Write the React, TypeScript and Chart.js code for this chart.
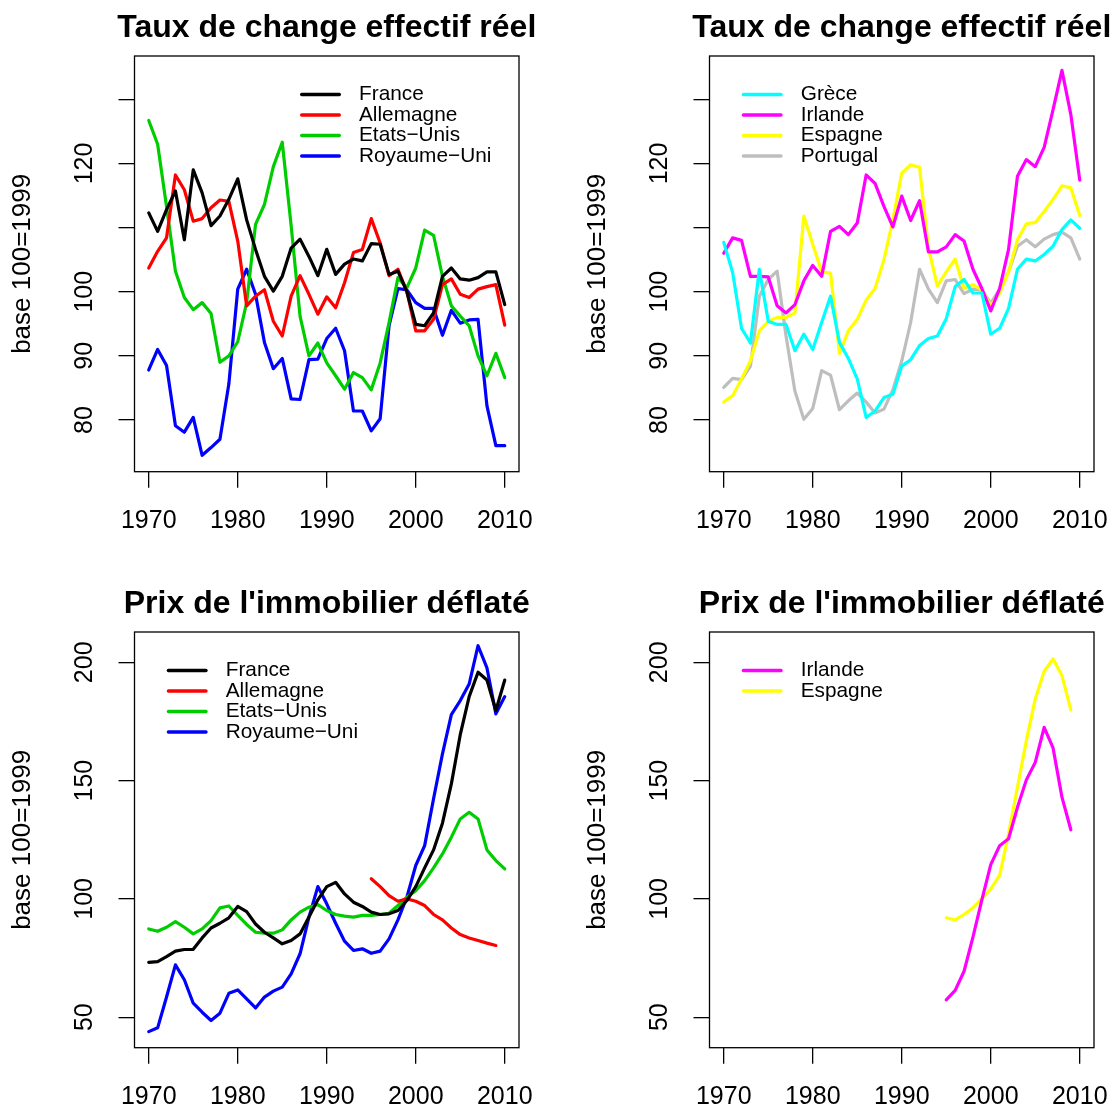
import React, { useEffect, useRef } from "react";
import { Chart, registerables } from "chart.js";

Chart.register(...registerables);

const FONT = '"Liberation Sans", Arial, Helvetica, sans-serif';
Chart.defaults.font.family = FONT;
Chart.defaults.color = "#000";

// ---------- categories & ticks ----------
const years = [
  1970, 1971, 1972, 1973, 1974, 1975, 1976, 1977, 1978, 1979,
  1980, 1981, 1982, 1983, 1984, 1985, 1986, 1987, 1988, 1989,
  1990, 1991, 1992, 1993, 1994, 1995, 1996, 1997, 1998, 1999,
  2000, 2001, 2002, 2003, 2004, 2005, 2006, 2007, 2008, 2009, 2010,
];
const yearTicks = [1970, 1980, 1990, 2000, 2010];
const xMin = 1968.4;
const xMax = 2011.6;

const tcerTicks = [80, 90, 100, 110, 120, 130];
const tcerTickLabels = [80, 90, 100, 120];
const tcerMin = 71.94;
const tcerMax = 136.75;

const immoTicks = [50, 100, 150, 200];
const immoTickLabels = [50, 100, 150, 200];
const immoMin = 37.1;
const immoMax = 212.8;

// ---------- Taux de change effectif réel ----------
const tcerFrance = [
  112.3, 109.4, 112.8, 115.7, 108.1, 119.0, 115.4, 110.3, 111.8, 114.4,
  117.6, 111.2, 106.6, 102.4, 100.1, 102.4, 106.8, 108.2, 105.5, 102.5,
  106.6, 102.7, 104.3, 105.1, 104.8, 107.5, 107.4, 102.7, 103.2, 100.0,
  94.9, 94.7, 96.7, 102.4, 103.7, 102.0, 101.8, 102.2, 103.1, 103.1, 98.0,
];
const tcerAllemagne = [
  103.7, 106.3, 108.4, 118.2, 115.9, 111.0, 111.4, 113.1, 114.3, 114.1,
  107.9, 97.8, 99.3, 100.3, 95.4, 93.1, 99.3, 102.5, 99.6, 96.5,
  99.2, 97.5, 101.4, 106.1, 106.6, 111.4, 107.6, 102.5, 103.5, 100.0,
  93.9, 93.9, 95.7, 101.1, 102.0, 99.6, 99.1, 100.4, 100.8, 101.1, 94.8,
];
const tcerEtatsUnis = [
  126.7, 123.0, 113.3, 103.2, 99.1, 97.2, 98.3, 96.6, 89.0, 90.0,
  92.2, 98.3, 110.5, 113.6, 119.5, 123.3, 110.3, 96.2, 90.0, 92.0,
  88.9, 86.9, 84.8, 87.4, 86.6, 84.7, 88.9, 95.2, 102.2, 100.6,
  103.7, 109.6, 108.8, 102.4, 97.8, 96.2, 94.7, 90.0, 86.9, 90.4, 86.6,
];
const tcerRoyaumeUni = [
  87.8, 91.0, 88.5, 79.1, 78.1, 80.4, 74.5, 75.7, 77.0, 85.6,
  100.4, 103.5, 99.6, 92.1, 88.0, 89.6, 83.3, 83.2, 89.4, 89.5,
  92.7, 94.3, 90.8, 81.4, 81.4, 78.3, 80.2, 94.7, 100.5, 100.3,
  98.3, 97.4, 97.4, 93.2, 97.1, 95.1, 95.6, 95.7, 82.2, 76.0, 76.0,
];
const tcerGrece = [
  107.7, 103.0, 94.3, 92.0, 103.5, 95.4, 94.9, 94.9, 90.8, 93.4,
  91.0, 95.2, 99.3, 92.1, 89.6, 86.4, 80.4, 81.4, 83.5, 84.0,
  88.4, 89.4, 91.6, 92.7, 93.1, 95.8, 100.8, 101.9, 99.8, 99.8,
  93.4, 94.3, 97.4, 103.5, 105.1, 104.8, 105.8, 107.1, 109.7, 111.2, 109.9,
];
const tcerIrlande = [
  106.0, 108.4, 108.0, 102.4, 102.4, 102.3, 97.8, 96.7, 98.0, 101.7,
  104.1, 102.4, 109.4, 110.2, 108.9, 110.7, 118.2, 116.9, 113.3, 110.1,
  114.9, 111.1, 114.2, 106.2, 106.2, 107.0, 108.9, 107.9, 103.5, 100.5,
  97.0, 100.5, 106.6, 118.0, 120.6, 119.5, 122.5, 128.4, 134.5, 127.6, 117.4,
];
const tcerEspagne = [
  82.8, 83.8, 86.4, 89.2, 93.9, 95.4, 96.0, 96.0, 96.7, 111.8,
  107.4, 103.1, 102.9, 90.4, 93.9, 95.7, 98.7, 100.5, 105.0, 111.2,
  118.5, 119.8, 119.4, 106.8, 100.9, 103.1, 105.1, 100.5, 101.1, 100.3,
  97.8, 99.8, 103.1, 108.1, 110.6, 110.8, 112.5, 114.4, 116.5, 116.2, 111.9,
];
const tcerPortugal = [
  85.1, 86.5, 86.3, 88.4, 99.3, 101.9, 103.2, 93.1, 84.5, 80.1,
  81.8, 87.7, 87.0, 81.6, 83.0, 84.2, 82.8, 81.1, 81.7, 84.7,
  89.2, 95.2, 103.5, 100.4, 98.3, 101.7, 101.9, 99.7, 100.4, 100.3,
  98.2, 100.4, 103.1, 107.1, 108.1, 107.0, 108.2, 108.9, 109.3, 108.4, 105.1,
];

// ---------- Prix de l'immobilier déflaté ----------
const immoFrance = [
  73.2, 73.5, 75.6, 77.9, 78.6, 78.7, 83.5, 87.7, 89.7, 92.0,
  96.8, 94.6, 89.4, 85.9, 83.5, 81.0, 82.4, 85.2, 92.3, 99.6,
  105.2, 107.0, 102.1, 98.6, 96.8, 94.4, 93.4, 93.7, 95.1, 99.3,
  105.2, 113.1, 120.7, 132.0, 148.6, 169.4, 185.5, 195.8, 192.5, 179.6, 192.5,
];
const immoAllemagne = [
  null, null, null, null, null, null, null, null, null, null,
  null, null, null, null, null, null, null, null, null, null,
  null, null, null, null, null, 108.5, 105.2, 101.4, 99.0, 100.0,
  99.0, 97.2, 93.4, 91.1, 87.7, 84.9, 83.5, 82.4, 81.3, 80.3, null,
];
const immoEtatsUnis = [
  87.3, 86.3, 88.0, 90.4, 88.0, 85.2, 87.3, 90.8, 96.2, 97.0,
  93.0, 89.2, 85.9, 85.5, 85.5, 86.9, 91.1, 94.4, 96.5, 97.6,
  95.1, 93.4, 92.7, 92.3, 93.0, 93.0, 93.4, 93.9, 97.2, 100.7,
  103.5, 107.7, 113.1, 119.0, 126.1, 133.8, 136.6, 133.8, 120.7, 116.2, 112.7,
];
const immoRoyaumeUni = [
  43.9, 45.5, 58.5, 72.1, 65.8, 55.9, 52.1, 48.6, 51.7, 60.1,
  61.5, 57.7, 53.9, 58.5, 61.0, 62.7, 68.3, 76.8, 92.3, 105.2,
  97.9, 89.7, 82.1, 78.2, 78.9, 77.0, 77.9, 83.1, 91.1, 100.7,
  114.1, 122.5, 142.3, 161.3, 177.9, 183.8, 190.8, 207.0, 197.6, 178.2, 185.5,
];
const immoIrlande = [
  null, null, null, null, null, null, null, null, null, null,
  null, null, null, null, null, null, null, null, null, null,
  null, null, null, null, null, 57.3, 61.3, 69.4, 83.8, 99.6,
  114.5, 122.5, 125.4, 138.7, 150.3, 157.7, 172.5, 163.8, 143.0, 129.2, null,
];
const immoEspagne = [
  null, null, null, null, null, null, null, null, null, null,
  null, null, null, null, null, null, null, null, null, null,
  null, null, null, null, null, 92.0, 91.1, 93.4, 96.2, 100.0,
  104.2, 109.9, 127.5, 147.2, 166.9, 184.5, 196.2, 201.4, 194.4, 179.9, null,
];

const yTitle = "base 100=1999";
const titleTcer = "Taux de change effectif réel";
const titleImmo = "Prix de l'immobilier déflaté";

type Series = { label: string; color: string; values: (number | null)[] };

// ---------- layout constants (pixels inside one 575x575 panel) ----------
const PANEL = 575;
const AREA_LEFT = 134.5;
const AREA_TOP = 56;
const AREA_RIGHT = 519;
const AREA_BOTTOM = 471.7;
const X_AXIS_H = 60;
const TICK_LEN = 16;
const TICK_FONT = 25;

const decorPlugin = {
  id: "decor",
  afterDraw(chart: any, _args: any, opts: any) {
    const { ctx, chartArea: a } = chart;
    ctx.save();
    // box
    ctx.strokeStyle = "#000";
    ctx.lineWidth = 1.3;
    ctx.strokeRect(a.left, a.top, a.right - a.left, a.bottom - a.top);
    // title
    ctx.fillStyle = "#000";
    ctx.font = `bold 32px ${FONT}`;
    ctx.textAlign = "center";
    ctx.textBaseline = "alphabetic";
    ctx.fillText(opts.title, (a.left + a.right) / 2, 36.5);
    // legend
    ctx.font = `20.8px ${FONT}`;
    ctx.textAlign = "left";
    ctx.textBaseline = "middle";
    chart.data.datasets.forEach((ds: any, i: number) => {
      const y = a.top + 38.5 + i * 20.5;
      const x0 = a.left + opts.legendX;
      ctx.strokeStyle = ds.borderColor;
      ctx.lineWidth = 3.4;
      ctx.lineCap = "round";
      ctx.beginPath();
      ctx.moveTo(x0 + 1.7, y);
      ctx.lineTo(x0 + 39.3, y);
      ctx.stroke();
      ctx.fillStyle = "#000";
      ctx.fillText(ds.label, x0 + 59, y);
    });
    ctx.restore();
  },
};

type PanelProps = {
  x: number;
  y: number;
  title: string;
  series: Series[];
  yMin: number;
  yMax: number;
  yTicks: number[];
  yTickLabels: number[];
  legendX: number;
};

function Panel(p: PanelProps) {
  const ref = useRef<HTMLCanvasElement>(null);
  useEffect(() => {
    const canvas = ref.current;
    if (!canvas) return;
    const chart = new Chart(canvas, {
      type: "line",
      data: {
        datasets: p.series.map((s) => ({
          label: s.label,
          data: years.map((yr, i) => ({ x: yr, y: s.values[i] })),
          borderColor: s.color,
          backgroundColor: s.color,
          borderWidth: 3.2,
          borderCapStyle: "round",
          borderJoinStyle: "round",
          pointRadius: 0,
          tension: 0,
          fill: false,
          spanGaps: false,
        })),
      },
      options: {
        responsive: false,
        animation: false,
        devicePixelRatio: 1,
        events: [],
        layout: {
          padding: {
            left: 0,
            top: AREA_TOP,
            right: PANEL - AREA_RIGHT,
            bottom: PANEL - AREA_BOTTOM - X_AXIS_H,
          },
        },
        plugins: {
          legend: { display: false },
          title: { display: false },
          tooltip: { enabled: false },
          decor: { title: p.title, legendX: p.legendX },
        } as any,
        scales: {
          x: {
            type: "linear",
            position: "bottom",
            min: xMin,
            max: xMax,
            afterBuildTicks: (s: any) => {
              s.ticks = yearTicks.map((v) => ({ value: v }));
            },
            afterFit: (s: any) => {
              s.height = X_AXIS_H;
              s.paddingLeft = 0;
              s.paddingRight = 0;
            },
            ticks: {
              autoSkip: false,
              minRotation: 0,
              maxRotation: 0,
              padding: 18.8,
              color: "#000",
              font: { family: FONT, size: TICK_FONT },
              callback: (v: any) => String(v),
            },
            grid: {
              drawOnChartArea: false,
              drawTicks: true,
              tickLength: TICK_LEN,
              color: "#000",
              lineWidth: 1.3,
            },
            border: { display: false },
          },
          y: {
            type: "linear",
            position: "left",
            min: p.yMin,
            max: p.yMax,
            afterBuildTicks: (s: any) => {
              s.ticks = p.yTicks.map((v) => ({ value: v }));
            },
            afterFit: (s: any) => {
              s.width = AREA_LEFT;
              s.paddingTop = 0;
              s.paddingBottom = 0;
            },
            ticks: {
              autoSkip: false,
              minRotation: 90,
              maxRotation: 90,
              crossAlign: "center",
              padding: 12.6,
              color: "#000",
              font: { family: FONT, size: TICK_FONT },
              callback: (v: any) => (p.yTickLabels.includes(v) ? String(v) : ""),
            },
            grid: {
              drawOnChartArea: false,
              drawTicks: true,
              tickLength: TICK_LEN,
              color: "#000",
              lineWidth: 1.3,
            },
            border: { display: false },
            title: {
              display: true,
              text: yTitle,
              color: "#000",
              font: { family: FONT, size: 26 },
              padding: { top: 7.7, bottom: 0 },
            },
          },
        },
      } as any,
      plugins: [decorPlugin],
    } as any);
    return () => chart.destroy();
  }, []);
  return (
    <canvas
      ref={ref}
      width={PANEL}
      height={PANEL}
      style={{ position: "absolute", left: p.x, top: p.y, width: PANEL, height: PANEL }}
    />
  );
}

const seriesTcerA: Series[] = [
  { label: "France", color: "#000000", values: tcerFrance },
  { label: "Allemagne", color: "#FF0000", values: tcerAllemagne },
  { label: "Etats\u2212Unis", color: "#00CD00", values: tcerEtatsUnis },
  { label: "Royaume\u2212Uni", color: "#0000FF", values: tcerRoyaumeUni },
];
const seriesTcerB: Series[] = [
  { label: "Grèce", color: "#00FFFF", values: tcerGrece },
  { label: "Irlande", color: "#FF00FF", values: tcerIrlande },
  { label: "Espagne", color: "#FFFF00", values: tcerEspagne },
  { label: "Portugal", color: "#BEBEBE", values: tcerPortugal },
];
const seriesImmoA: Series[] = [
  { label: "France", color: "#000000", values: immoFrance },
  { label: "Allemagne", color: "#FF0000", values: immoAllemagne },
  { label: "Etats\u2212Unis", color: "#00CD00", values: immoEtatsUnis },
  { label: "Royaume\u2212Uni", color: "#0000FF", values: immoRoyaumeUni },
];
const seriesImmoB: Series[] = [
  { label: "Irlande", color: "#FF00FF", values: immoIrlande },
  { label: "Espagne", color: "#FFFF00", values: immoEspagne },
];

export default function App() {
  return (
    <div
      style={{
        position: "absolute",
        left: 0,
        top: 0,
        width: 1116,
        height: 1110,
        overflow: "hidden",
        background: "#fff",
      }}
    >
      <Panel x={0} y={0} title={titleTcer} series={seriesTcerA} yMin={tcerMin} yMax={tcerMax}
        yTicks={tcerTicks} yTickLabels={tcerTickLabels} legendX={165.5} />
      <Panel x={575} y={0} title={titleTcer} series={seriesTcerB} yMin={tcerMin} yMax={tcerMax}
        yTicks={tcerTicks} yTickLabels={tcerTickLabels} legendX={32.2} />
      <Panel x={0} y={575.5} title={titleImmo} series={seriesImmoA} yMin={immoMin} yMax={immoMax}
        yTicks={immoTicks} yTickLabels={immoTickLabels} legendX={32.2} />
      <Panel x={575} y={575.5} title={titleImmo} series={seriesImmoB} yMin={immoMin} yMax={immoMax}
        yTicks={immoTicks} yTickLabels={immoTickLabels} legendX={32.2} />
    </div>
  );
}
